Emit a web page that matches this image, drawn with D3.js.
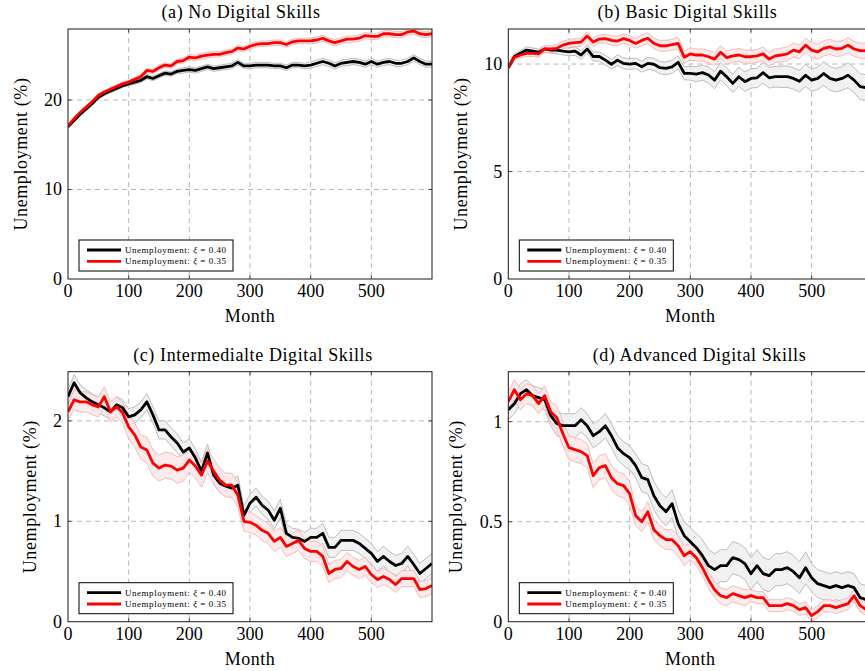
<!DOCTYPE html>
<html>
<head>
<meta charset="utf-8">
<script src="https://cdn.jsdelivr.net/npm/d3@7"></script>
</head>
<body style="margin:0">
<script>
// months sampled every 10 months
const months = d3.range(0, 601, 10);
const xTicks = [0, 100, 200, 300, 400, 500];

// (a) No Digital Skills
const noBlack = [17.0,17.7,18.4,19.0,19.6,20.3,20.7,21.0,21.3,21.6,
  21.8,22.0,22.2,22.6,22.4,22.7,23.0,22.9,23.2,23.3,
  23.4,23.3,23.5,23.7,23.5,23.6,23.7,23.8,24.2,23.8,
  23.8,23.9,23.9,23.9,23.8,23.8,23.6,23.9,23.9,23.8,
  23.9,24.1,24.3,24.1,23.8,24.1,24.2,24.3,24.2,24.0,
  24.3,24.0,24.2,24.3,24.1,24.1,24.3,24.7,24.3,24.0,24.0];
const noRed = [17.1,17.9,18.6,19.2,19.8,20.5,20.9,21.2,21.5,21.8,
  22.0,22.3,22.6,23.3,23.2,23.6,23.9,23.8,24.3,24.4,
  24.8,24.7,24.9,25.0,25.1,25.1,25.3,25.4,25.8,25.7,
  26.0,26.2,26.3,26.3,26.4,26.4,26.2,26.5,26.6,26.6,
  26.6,26.7,26.9,26.6,26.4,26.6,26.8,26.8,26.9,27.2,
  27.1,27.1,27.4,27.4,27.3,27.3,27.6,27.7,27.4,27.3,27.4];
const noBlackCI = [0.1,0.15,0.15,0.2,0.2,0.2,0.2,0.2,0.2,0.2,
  0.2,0.25,0.25,0.25,0.25,0.25,0.25,0.25,0.25,0.3,
  0.3,0.3,0.3,0.3,0.3,0.3,0.3,0.3,0.3,0.3,
  0.3,0.3,0.3,0.3,0.3,0.3,0.3,0.3,0.3,0.3,
  0.35,0.35,0.35,0.35,0.35,0.35,0.35,0.35,0.35,0.35,
  0.35,0.35,0.35,0.35,0.35,0.35,0.35,0.35,0.35,0.35,0.35];
const noRedCI = [0.1,0.15,0.15,0.2,0.2,0.2,0.2,0.2,0.2,0.2,
  0.2,0.25,0.25,0.25,0.25,0.25,0.25,0.25,0.25,0.3,
  0.3,0.3,0.3,0.3,0.3,0.3,0.3,0.3,0.3,0.3,
  0.3,0.3,0.3,0.3,0.3,0.3,0.3,0.3,0.3,0.3,
  0.35,0.35,0.35,0.35,0.35,0.35,0.35,0.35,0.35,0.35,
  0.35,0.35,0.35,0.35,0.35,0.35,0.35,0.35,0.35,0.35,0.35];

// (b) Basic Digital Skills
const basicBlack = [9.83,10.35,10.50,10.65,10.60,10.55,10.70,10.65,10.65,10.60,
  10.57,10.60,10.42,10.70,10.35,10.35,10.18,9.99,10.18,10.03,
  10.00,10.03,9.87,10.03,9.99,9.83,9.80,9.87,10.08,9.57,
  9.57,9.53,9.60,9.49,9.25,9.67,9.41,9.10,9.41,9.18,
  9.33,9.36,9.60,9.36,9.41,9.41,9.41,9.33,9.20,9.48,
  9.25,9.33,9.56,9.33,9.25,9.33,9.48,9.25,8.95,8.90,8.90];
const basicRed = [9.83,10.31,10.42,10.50,10.50,10.47,10.70,10.70,10.73,10.88,
  10.96,11.00,11.02,11.30,11.02,11.16,11.18,11.10,11.07,11.18,
  11.10,10.96,11.10,11.20,10.96,10.85,10.85,10.90,10.96,10.32,
  10.47,10.42,10.42,10.34,10.23,10.55,10.30,10.38,10.42,10.34,
  10.34,10.38,10.47,10.23,10.38,10.42,10.47,10.65,10.57,10.88,
  10.65,10.57,10.73,10.80,10.70,10.73,10.88,10.70,10.62,10.62,10.65];
const basicBlackCI = [0.1,0.12,0.12,0.15,0.15,0.15,0.15,0.15,0.18,0.18,
  0.18,0.2,0.2,0.2,0.2,0.22,0.22,0.22,0.25,0.25,
  0.25,0.25,0.25,0.28,0.28,0.28,0.3,0.3,0.3,0.3,
  0.32,0.35,0.35,0.38,0.4,0.4,0.42,0.42,0.45,0.45,
  0.45,0.45,0.48,0.48,0.48,0.5,0.5,0.5,0.5,0.52,
  0.52,0.52,0.55,0.55,0.55,0.55,0.58,0.58,0.6,0.6,0.6];
const basicRedCI = [0.1,0.12,0.12,0.15,0.15,0.15,0.15,0.15,0.18,0.18,
  0.18,0.18,0.2,0.2,0.2,0.2,0.2,0.22,0.22,0.22,
  0.22,0.22,0.25,0.25,0.25,0.25,0.25,0.25,0.28,0.28,
  0.28,0.28,0.28,0.3,0.3,0.3,0.3,0.3,0.3,0.3,
  0.3,0.3,0.32,0.32,0.32,0.32,0.32,0.32,0.32,0.32,
  0.35,0.35,0.35,0.35,0.35,0.35,0.35,0.35,0.35,0.35,0.35];

// (c) Intermediate Digital Skills
const interBlack = [2.24,2.38,2.28,2.23,2.19,2.16,2.13,2.09,2.16,2.13,
  2.04,2.06,2.11,2.19,2.06,1.91,1.91,1.84,1.78,1.69,
  1.73,1.63,1.50,1.68,1.46,1.38,1.35,1.33,1.36,1.06,
  1.18,1.24,1.16,1.11,1.01,1.13,0.88,0.84,0.83,0.80,
  0.84,0.84,0.88,0.74,0.74,0.81,0.81,0.81,0.78,0.73,
  0.68,0.60,0.65,0.60,0.56,0.58,0.65,0.57,0.48,0.53,0.58];
const interRed = [2.09,2.21,2.19,2.19,2.16,2.14,2.24,2.09,2.14,2.08,
  1.94,1.86,1.74,1.71,1.58,1.53,1.56,1.55,1.51,1.53,
  1.61,1.55,1.46,1.60,1.50,1.41,1.36,1.36,1.26,1.00,
  0.99,0.96,0.91,0.88,0.80,0.84,0.75,0.78,0.81,0.73,
  0.70,0.70,0.65,0.48,0.52,0.53,0.60,0.55,0.52,0.55,
  0.47,0.42,0.45,0.42,0.37,0.43,0.43,0.43,0.32,0.33,0.36];
const interBlackCI = [0.07,0.08,0.08,0.08,0.08,0.08,0.08,0.08,0.08,0.08,
  0.08,0.08,0.08,0.08,0.08,0.09,0.09,0.09,0.09,0.09,
  0.09,0.09,0.09,0.09,0.09,0.09,0.09,0.09,0.09,0.09,
  0.09,0.09,0.09,0.09,0.09,0.09,0.09,0.09,0.09,0.09,
  0.09,0.09,0.1,0.1,0.1,0.1,0.1,0.1,0.1,0.1,
  0.1,0.1,0.1,0.1,0.1,0.1,0.1,0.1,0.1,0.1,0.1];
const interRedCI = [0.08,0.1,0.1,0.1,0.1,0.1,0.1,0.1,0.1,0.1,
  0.12,0.12,0.12,0.13,0.13,0.13,0.13,0.13,0.13,0.13,
  0.12,0.12,0.12,0.12,0.12,0.12,0.12,0.12,0.12,0.1,
  0.1,0.1,0.1,0.1,0.1,0.1,0.1,0.1,0.1,0.1,
  0.1,0.1,0.1,0.09,0.09,0.09,0.09,0.09,0.09,0.09,
  0.08,0.08,0.08,0.08,0.08,0.08,0.08,0.08,0.08,0.08,0.08];

// (d) Advanced Digital Skills
const advBlack = [1.06,1.09,1.14,1.16,1.13,1.12,1.11,1.03,0.99,0.98,
  0.98,0.98,1.01,0.98,0.93,0.95,0.98,0.93,0.87,0.84,
  0.82,0.78,0.72,0.71,0.63,0.58,0.55,0.59,0.49,0.43,
  0.40,0.37,0.33,0.28,0.26,0.28,0.28,0.32,0.31,0.29,
  0.24,0.28,0.24,0.23,0.26,0.26,0.27,0.25,0.22,0.27,
  0.22,0.19,0.18,0.17,0.18,0.17,0.18,0.17,0.12,0.11,0.12];
const advRed = [1.10,1.16,1.11,1.14,1.13,1.09,1.13,1.05,1.02,0.94,
  0.87,0.86,0.85,0.83,0.73,0.77,0.78,0.72,0.69,0.68,
  0.64,0.53,0.50,0.55,0.46,0.43,0.41,0.41,0.38,0.33,
  0.35,0.32,0.27,0.21,0.16,0.13,0.12,0.14,0.13,0.12,
  0.13,0.12,0.12,0.08,0.08,0.08,0.09,0.08,0.06,0.07,
  0.03,0.05,0.08,0.08,0.07,0.08,0.09,0.13,0.08,0.06,0.07];
const advBlackCI = [0.05,0.05,0.05,0.05,0.05,0.05,0.05,0.05,0.06,0.06,
  0.06,0.06,0.06,0.06,0.06,0.06,0.06,0.06,0.06,0.06,
  0.06,0.06,0.07,0.07,0.07,0.07,0.07,0.07,0.07,0.07,
  0.07,0.07,0.08,0.08,0.08,0.08,0.08,0.08,0.08,0.08,
  0.08,0.08,0.08,0.08,0.08,0.08,0.08,0.08,0.08,0.08,
  0.07,0.07,0.07,0.07,0.07,0.07,0.07,0.07,0.07,0.07,0.07];
const advRedCI = [0.05,0.05,0.05,0.05,0.05,0.05,0.05,0.05,0.06,0.06,
  0.06,0.06,0.06,0.06,0.06,0.06,0.06,0.06,0.06,0.06,
  0.06,0.05,0.05,0.05,0.05,0.05,0.05,0.05,0.05,0.05,
  0.04,0.04,0.04,0.04,0.04,0.04,0.04,0.04,0.04,0.04,
  0.03,0.03,0.03,0.03,0.03,0.03,0.03,0.03,0.03,0.03,
  0.03,0.03,0.03,0.03,0.03,0.03,0.03,0.03,0.03,0.03,0.03];

const legendLabels = ["0.40", "0.35"];

const panels = [
  {title: "(a) No Digital Skills", left: 68, top: 29, titleX: 241, labelX: 27,
   yMax: 27.93, yTicks: [0, 10, 20], black: noBlack, blackCI: noBlackCI, red: noRed, redCI: noRedCI},
  {title: "(b) Basic Digital Skills", left: 508.3, top: 29, titleX: 687.5, labelX: 467,
   yMax: 11.63, yTicks: [0, 5, 10], black: basicBlack, blackCI: basicBlackCI, red: basicRed, redCI: basicRedCI},
  {title: "(c) Intermedialte Digital Skills", left: 68, top: 371.7, titleX: 253, labelX: 35.5,
   yMax: 2.49, yTicks: [0, 1, 2], black: interBlack, blackCI: interBlackCI, red: interRed, redCI: interRedCI},
  {title: "(d) Advanced Digital Skills", left: 508.3, top: 371.7, titleX: 699.5, labelX: 462,
   yMax: 1.25, yTicks: [0, 0.5, 1], black: advBlack, blackCI: advBlackCI, red: advRed, redCI: advRedCI}
];

const width = 364, height = 250;

const svg = d3.select("body")
  .append("svg")
    .attr("width", 865)
    .attr("height", 671)
    .attr("font-family", "'Liberation Serif'");

// every text is appended straight to the svg, in page coordinates
function addText(tx, ty, str, size, anchor) {
  return svg.append("text")
    .attr("x", tx).attr("y", ty)
    .attr("font-family", "'Liberation Serif'")
    .attr("font-size", size)
    .attr("text-anchor", anchor)
    .text(str);
}

panels.forEach(function(p, i) {
  const x = d3.scaleLinear().domain([0, 600]).range([p.left, p.left + width]);
  const y = d3.scaleLinear().domain([0, p.yMax]).range([p.top + height, p.top]);
  const x0 = p.left, x1 = p.left + width, y0 = p.top + height, y1 = p.top;

  svg.append("clipPath").attr("id", "clip" + i)
    .append("rect").attr("x", x0).attr("y", y1).attr("width", width).attr("height", height);

  // grid
  xTicks.filter(d => d > 0).forEach(function(d) {
    svg.append("line").attr("x1", x(d)).attr("x2", x(d)).attr("y1", y1).attr("y2", y0)
      .attr("stroke", "#b8b8b8").attr("stroke-dasharray", "5,4");
  });
  p.yTicks.filter(d => d > 0).forEach(function(d) {
    svg.append("line").attr("x1", x0).attr("x2", x1).attr("y1", y(d)).attr("y2", y(d))
      .attr("stroke", "#b8b8b8").attr("stroke-dasharray", "5,4");
  });

  const plot = svg.append("g").attr("clip-path", `url(#clip${i})`);

  const series = [
    {vals: p.black, ci: p.blackCI, fill: "#efefef", edge: "#b5b5b5", color: "#000"},
    {vals: p.red, ci: p.redCI, fill: "#fde6e6", edge: "#f7b3b3", color: "#ff0000"}
  ];

  series.forEach(function(s) {
    const rows = months.map((m, j) => ({m: m, v: s.vals[j], c: s.ci[j]}));
    plot.append("path").datum(rows)
      .attr("fill", s.fill).attr("fill-opacity", 0.85)
      .attr("d", d3.area().x(d => x(d.m)).y0(d => y(d.v - d.c)).y1(d => y(d.v + d.c)));
    [1, -1].forEach(function(sign) {
      plot.append("path").datum(rows)
        .attr("fill", "none").attr("stroke", s.edge).attr("stroke-width", 0.9)
        .attr("d", d3.line().x(d => x(d.m)).y(d => y(d.v + sign * d.c)));
    });
  });
  series.forEach(function(s) {
    const rows = months.map((m, j) => ({m: m, v: s.vals[j]}));
    plot.append("path").datum(rows)
      .attr("fill", "none").attr("stroke", s.color).attr("stroke-width", 2.8)
      .attr("stroke-linejoin", "round")
      .attr("d", d3.line().x(d => x(d.m)).y(d => y(d.v)));
  });

  // inner tick marks on all sides
  xTicks.filter(d => d > 0).forEach(function(d) {
    svg.append("line").attr("x1", x(d)).attr("x2", x(d)).attr("y1", y0).attr("y2", y0 - 3.5).attr("stroke", "#444");
    svg.append("line").attr("x1", x(d)).attr("x2", x(d)).attr("y1", y1).attr("y2", y1 + 3.5).attr("stroke", "#444");
  });
  p.yTicks.filter(d => d > 0).forEach(function(d) {
    svg.append("line").attr("x1", x0).attr("x2", x0 + 3.5).attr("y1", y(d)).attr("y2", y(d)).attr("stroke", "#444");
    svg.append("line").attr("x1", x1).attr("x2", x1 - 3.5).attr("y1", y(d)).attr("y2", y(d)).attr("stroke", "#444");
  });

  // frame
  svg.append("rect").attr("x", x0).attr("y", y1).attr("width", width).attr("height", height)
    .attr("fill", "none").attr("stroke", "#1a1a1a");

  // tick labels
  xTicks.forEach(d => addText(x(d), y0 + 18, String(d), 18, "middle"));
  p.yTicks.forEach(d => addText(x0 - 6, y(d) + 6, String(d), 18, "end"));

  // axis labels and title
  addText((x0 + x1) / 2, y0 + 43, "Month", 18, "middle").attr("letter-spacing", 0.5);
  addText(0, 0, "Unemployment (%)", 18, "middle").attr("letter-spacing", 0.6)
    .attr("transform", `translate(${p.labelX},${p.top + height / 2}) rotate(-90)`);
  addText(p.titleX, p.top - 11, p.title, 18, "middle").attr("letter-spacing", 0.6);

  // legend
  const lx = x0 + 11, ly0 = y0 - 39;
  svg.append("rect").attr("x", lx).attr("y", ly0).attr("width", 154).attr("height", 31)
    .attr("fill", "#fff").attr("stroke", "#000");
  series.forEach(function(s, k) {
    const ly = ly0 + 10 + k * 11.3;
    svg.append("line").attr("x1", lx + 8).attr("x2", lx + 42).attr("y1", ly).attr("y2", ly)
      .attr("stroke", s.color).attr("stroke-width", 2.8);
    const t = addText(lx + 46, ly + 3, null, 9, "start")
      .attr("textLength", 101).attr("lengthAdjust", "spacing");
    t.append("tspan").text("Unemployment: ");
    t.append("tspan").attr("font-style", "italic").text("ξ");
    t.append("tspan").text(" = " + legendLabels[k]);
  });
});
</script>
</body>
</html>
